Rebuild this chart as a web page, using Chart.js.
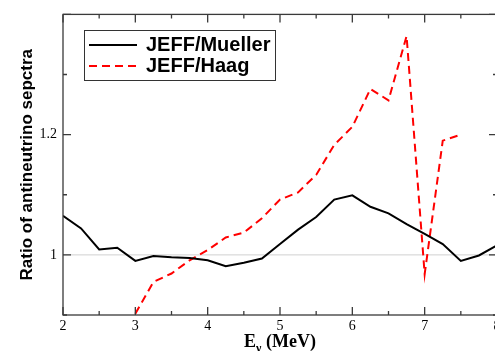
<!DOCTYPE html>
<html lang="en">
<head>
    <meta charset="UTF-8">
    <title>Ratio of antineutrino spectra</title>
    <script src="https://cdn.jsdelivr.net/npm/chart.js"></script>
    <style>
        body {
            margin: 0;
            padding: 0;
            background-color: white;
            overflow: hidden;
        }
        .chart-container {
            position: relative;
            width: 510px;
            height: 351px;
        }
    </style>
</head>
<body>

<div class="chart-container">
    <canvas id="ratioChart"></canvas>
</div>

<script>
    // Energies (MeV) and ratios
    const energyMueller = [2, 2.25, 2.5, 2.75, 3, 3.25, 3.5, 3.75, 4, 4.25, 4.5, 4.75, 5,
                           5.25, 5.5, 5.75, 6, 6.25, 6.5, 6.75, 7, 7.25, 7.5, 7.75, 8];
    const ratioMueller = [1.065, 1.044, 1.009, 1.012, 0.990, 0.998, 0.996, 0.995, 0.991, 0.981, 0.987, 0.994, 1.018,
                          1.042, 1.063, 1.092, 1.099, 1.080, 1.069, 1.051, 1.035, 1.018, 0.990, 0.999, 1.016];

    const energyHaag = [3, 3.25, 3.5, 3.75, 4, 4.25, 4.5, 4.75, 5, 5.25,
                        5.5, 5.75, 6, 6.25, 6.5, 6.75, 7, 7.25, 7.5];
    const ratioHaag = [0.902, 0.955, 0.969, 0.991, 1.008, 1.029, 1.037, 1.061, 1.092, 1.104,
                       1.133, 1.183, 1.213, 1.276, 1.257, 1.364, 0.968, 1.190, 1.200];

    const seriesLabels = ['JEFF/Mueller', 'JEFF/Haag'];
    const xLabelTicks = [2, 3, 4, 5, 6, 7, 8];
    const yLabelTicks = [1, 1.2];

    function toPoints(xs, ys) {
        return xs.map((x, i) => ({ x: x, y: ys[i] }));
    }

    // Frame, inward ticks, reference line, legend and x title
    const figurePlugin = {
        id: 'figurePlugin',
        beforeDatasetsDraw(chart) {
            const ctx = chart.ctx;
            const area = chart.chartArea;
            const y1 = chart.scales.y.getPixelForValue(1);
            ctx.save();
            ctx.strokeStyle = '#d0d0d0';
            ctx.lineWidth = 1;
            ctx.beginPath();
            ctx.moveTo(area.left, y1);
            ctx.lineTo(area.right, y1);
            ctx.stroke();
            ctx.restore();
        },
        afterDraw(chart) {
            const ctx = chart.ctx;
            const area = chart.chartArea;
            const xs = chart.scales.x;
            const ys = chart.scales.y;
            ctx.save();
            ctx.strokeStyle = '#3a3a3a';
            ctx.lineWidth = 1.3;
            ctx.strokeRect(area.left, area.top, area.right - area.left, area.bottom - area.top);

            ctx.beginPath();
            xs.ticks.forEach(t => {
                const px = xs.getPixelForValue(t.value);
                const len = Number.isInteger(Math.round(t.value * 100) / 100) ? 8 : 4;
                ctx.moveTo(px, area.bottom);
                ctx.lineTo(px, area.bottom - len);
                ctx.moveTo(px, area.top);
                ctx.lineTo(px, area.top + len);
            });
            ys.ticks.forEach(t => {
                const py = ys.getPixelForValue(t.value);
                const len = Math.round(t.value * 10) % 2 === 0 ? 8 : 4;
                ctx.moveTo(area.left, py);
                ctx.lineTo(area.left + len, py);
                ctx.moveTo(area.right, py);
                ctx.lineTo(area.right - len, py);
            });
            ctx.stroke();

            // legend box
            ctx.fillStyle = 'white';
            ctx.fillRect(84, 30, 191, 50);
            ctx.strokeStyle = '#333';
            ctx.lineWidth = 1;
            ctx.strokeRect(84.5, 30.5, 191, 50);
            chart.data.datasets.forEach((ds, i) => {
                const ly = 45 + i * 21;
                ctx.strokeStyle = ds.borderColor;
                ctx.lineWidth = 2.2;
                ctx.setLineDash(ds.borderDash || []);
                ctx.beginPath();
                ctx.moveTo(89, ly);
                ctx.lineTo(137, ly);
                ctx.stroke();
                ctx.setLineDash([]);
                ctx.fillStyle = 'black';
                ctx.font = 'bold 20px "Liberation Sans", Arial, sans-serif';
                ctx.textBaseline = 'middle';
                ctx.textAlign = 'left';
                ctx.fillText(ds.label, 146, ly);
            });

            // x axis title with subscript nu
            const cx = (area.left + area.right) / 2;
            const big = 'bold 18px "Liberation Serif", "Times New Roman", serif';
            const small = 'bold 12px "Liberation Serif", "Times New Roman", serif';
            ctx.fillStyle = 'black';
            ctx.textBaseline = 'alphabetic';
            ctx.textAlign = 'left';
            ctx.font = big;
            const wE = ctx.measureText('E').width;
            const wRest = ctx.measureText(' (MeV)').width;
            ctx.font = small;
            const wNu = ctx.measureText('\u03bd').width;
            let x0 = cx - (wE + wNu + wRest) / 2;
            const base = 347;
            ctx.font = big;
            ctx.fillText('E', x0, base);
            ctx.font = small;
            ctx.fillText('\u03bd', x0 + wE, base + 5);
            ctx.font = big;
            ctx.fillText(' (MeV)', x0 + wE + wNu, base);
            ctx.restore();
        }
    };

    const ctx = document.getElementById('ratioChart').getContext('2d');
    const ratioChart = new Chart(ctx, {
        type: 'line',
        data: {
            datasets: [
                {
                    label: seriesLabels[0],
                    data: toPoints(energyMueller, ratioMueller),
                    borderColor: '#000000',
                    borderWidth: 2,
                    pointRadius: 0,
                    tension: 0
                },
                {
                    label: seriesLabels[1],
                    data: toPoints(energyHaag, ratioHaag),
                    borderColor: '#ff0000',
                    borderWidth: 2,
                    borderDash: [8, 5],
                    pointRadius: 0,
                    tension: 0
                }
            ]
        },
        options: {
            responsive: true,
            maintainAspectRatio: false,
            animation: false,
            layout: {
                padding: { top: 11.5, right: 13, bottom: 0, left: 0 }
            },
            plugins: {
                legend: { display: false },
                tooltip: { enabled: false }
            },
            scales: {
                x: {
                    type: 'linear',
                    min: 2,
                    max: 8,
                    grid: { display: false, drawTicks: false },
                    border: { display: false },
                    ticks: {
                        stepSize: 0.5,
                        padding: 3,
                        color: '#000',
                        font: { family: '"Liberation Serif", "Times New Roman", serif', size: 14 },
                        maxRotation: 0,
                        autoSkip: false,
                        callback: v => xLabelTicks.includes(v) ? String(v) : ''
                    },
                    afterFit(scale) { scale.height = 36; }
                },
                y: {
                    min: 0.9,
                    max: 1.4,
                    grid: { display: false, drawTicks: false },
                    border: { display: false },
                    ticks: {
                        stepSize: 0.1,
                        padding: 6,
                        color: '#000',
                        font: { family: '"Liberation Serif", "Times New Roman", serif', size: 14 },
                        autoSkip: false,
                        callback: v => yLabelTicks.some(t => Math.abs(t - v) < 1e-6) ? String(Math.round(v * 10) / 10) : ''
                    },
                    title: {
                        display: true,
                        text: 'Ratio of antineutrino sepctra',
                        color: '#000',
                        font: { family: '"Liberation Sans", Arial, sans-serif', size: 17, weight: 'bold' },
                        padding: { top: 17, bottom: 0 }
                    },
                    afterFit(scale) { scale.width = 63; }
                }
            }
        },
        plugins: [figurePlugin]
    });
</script>

</body>
</html>
